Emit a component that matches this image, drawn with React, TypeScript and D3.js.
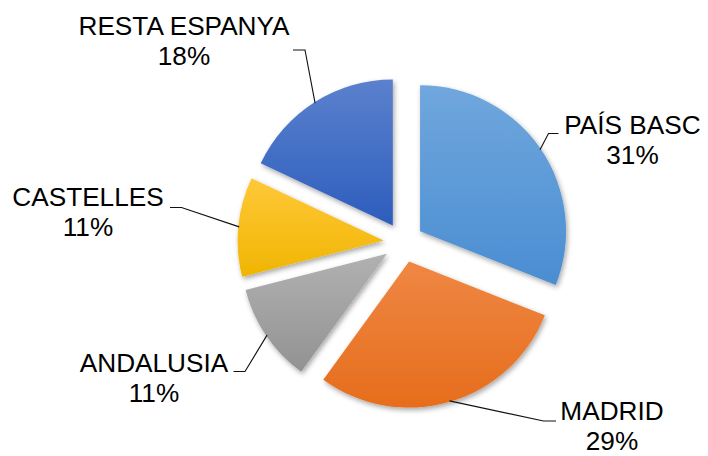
import React from "react";
import * as d3 from "d3";

const categories = ["PAÍS BASC", "MADRID", "ANDALUSIA", "CASTELLES", "RESTA ESPANYA"];
const values = [31, 29, 11, 11, 18];
const percentLabels = ["31%", "29%", "11%", "11%", "18%"];
const colorsTop = ["#70a7dd", "#ef8744", "#b1b1b1", "#ffc83a", "#5b81ce"];
const colorsBottom = ["#4a8dd2", "#e66d1c", "#929292", "#f0b500", "#2d5dbc"];

// label layout: text center x, first baseline y, leader elbow and end
const labelLayout = [
  { x: 632.5, y: 133.5, elbow: [548.5, 133.5], end: [558.5, 133.5] },
  { x: 612, y: 420, elbow: [543.5, 421], end: [556, 421] },
  { x: 154, y: 371.5, elbow: [245, 371.5], end: [233.5, 371.5] },
  { x: 88, y: 206, elbow: [181.5, 207.5], end: [170, 207.5] },
  { x: 184, y: 35, elbow: [305, 50], end: [293, 50] },
];

const W = 708;
const H = 456;
const cx = 403.5;
const cy = 242.4;
const R = 146;
const explode = 20;
const fontSize = 26.2;
const lineGap = 30;

export default function App() {
  const pie = d3.pie<number>().sort(null).value((d) => d).startAngle(0).endAngle(2 * Math.PI);
  const arcs = pie(values);
  const arc = d3.arc<d3.PieArcDatum<number>>().innerRadius(0).outerRadius(R);

  return (
    <svg
      width={W}
      height={H}
      style={{ position: "absolute", left: 0, top: 0, background: "#fff" }}
      fontFamily="'Liberation Sans', Arial, sans-serif"
    >
      <defs>
        {arcs.map((a, i) => (
          <linearGradient key={i} id={`g${i}`} x1="0" y1="0" x2="0" y2="1">
            <stop offset="0%" stopColor={colorsTop[i]} />
            <stop offset="100%" stopColor={colorsBottom[i]} />
          </linearGradient>
        ))}
        <filter id="sh" x="-20%" y="-20%" width="140%" height="140%">
          <feDropShadow dx="1.5" dy="2.5" stdDeviation="2.5" floodColor="#000" floodOpacity="0.35" />
        </filter>
      </defs>
      <rect width={W} height={H} fill="#fff" />
      {arcs.map((a, i) => {
        const mid = (a.startAngle + a.endAngle) / 2;
        const ox = cx + explode * Math.sin(mid);
        const oy = cy - explode * Math.cos(mid);
        return (
          <path
            key={i}
            d={arc(a) || ""}
            transform={`translate(${ox},${oy})`}
            fill={`url(#g${i})`}
            filter="url(#sh)"
          />
        );
      })}
      {arcs.map((a, i) => {
        const mid = (a.startAngle + a.endAngle) / 2;
        const sx = cx + (explode + R - 1) * Math.sin(mid);
        const sy = cy - (explode + R - 1) * Math.cos(mid);
        const L = labelLayout[i];
        return (
          <g key={i}>
            <polyline
              points={`${sx},${sy} ${L.elbow[0]},${L.elbow[1]} ${L.end[0]},${L.end[1]}`}
              fill="none"
              stroke="#111"
              strokeWidth={1.1}
            />
            <text x={L.x} y={L.y} textAnchor="middle" fontSize={fontSize} fill="#000">
              {categories[i]}
            </text>
            <text x={L.x} y={L.y + lineGap} textAnchor="middle" fontSize={fontSize} fill="#000">
              {percentLabels[i]}
            </text>
          </g>
        );
      })}
    </svg>
  );
}
